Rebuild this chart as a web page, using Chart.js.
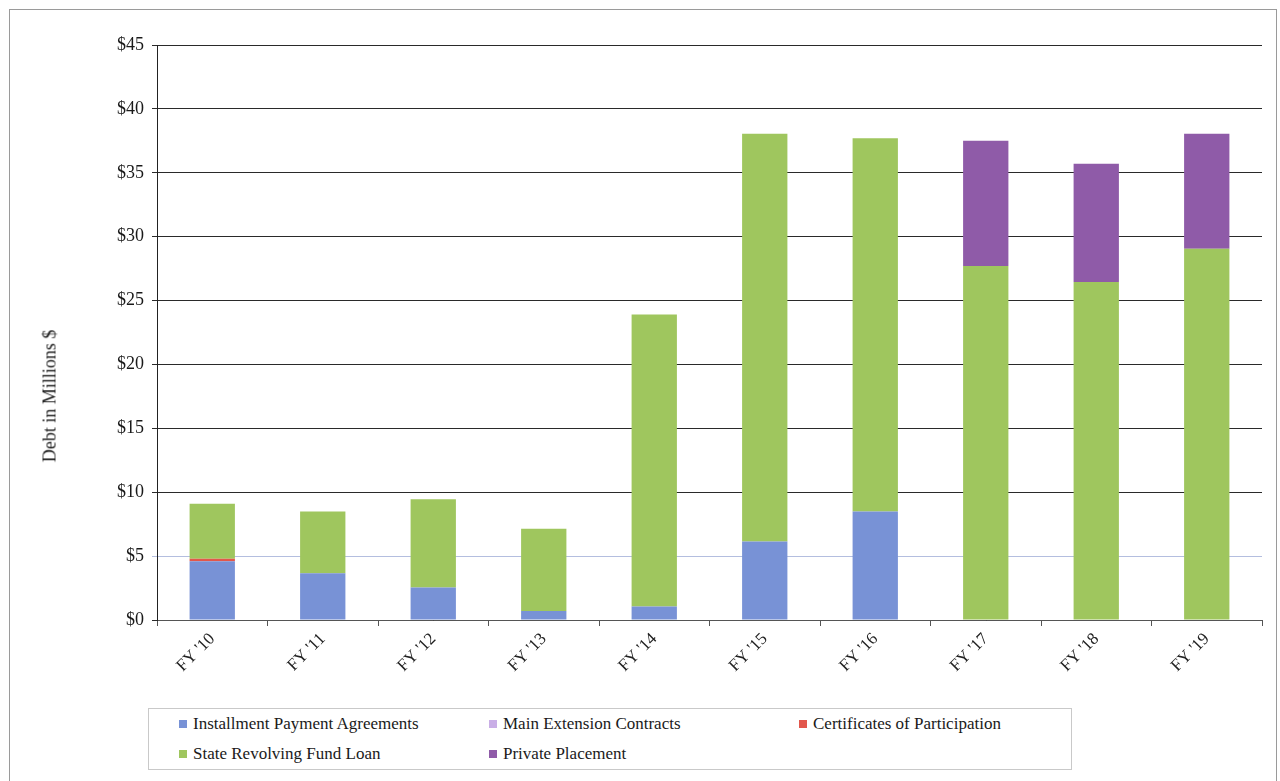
<!DOCTYPE html>
<html>
<head>
<meta charset="utf-8">
<script src="https://cdn.jsdelivr.net/npm/chart.js@4.4.1/dist/chart.umd.min.js"></script>
<style>
  body { margin: 0; background: #fff; font-family: "Liberation Serif", "Times New Roman", serif; }
  #frame { position: absolute; left: 9px; top: 9px; width: 1266px; height: 800px; border: 1px solid #9a9a9a; }
  #wrap { position: absolute; left: 0; top: 0; width: 1280px; height: 700px; }
  #ytitle { position: absolute; left: 50px; top: 396px; transform: translate(-50%, -50%) rotate(-90deg);
            font-size: 18px; color: #1a1a1a; white-space: nowrap; }
  #legend { position: absolute; left: 148px; top: 708px; width: 924px; height: 62px;
            border: 1px solid #c9c9c9; box-sizing: border-box; }
  .item { position: absolute; font-size: 17px; color: #1a1a1a; white-space: nowrap; line-height: 20px; }
  .item span { display: inline-block; width: 8px; height: 8px; margin-right: 6px; vertical-align: 1px; }
</style>
</head>
<body>
<div id="frame"></div>
<div id="wrap"><canvas id="debt"></canvas></div>
<div id="ytitle">Debt in Millions $</div>
<div id="legend"></div>
<script>
// fiscal years and outstanding debt by type, millions of dollars
const years = ["FY '10", "FY '11", "FY '12", "FY '13", "FY '14", "FY '15", "FY '16", "FY '17", "FY '18", "FY '19"];
const installment = [4.6, 3.65, 2.55, 0.7, 1.05, 6.15, 8.5, 0, 0, 0];
const mainExtension = [0, 0, 0, 0, 0, 0, 0, 0, 0, 0];
const certificates = [0.2, 0, 0, 0, 0, 0, 0, 0, 0, 0];
const srfLoan = [4.3, 4.85, 6.9, 6.45, 22.85, 31.9, 29.2, 27.7, 26.45, 29.05];
const privatePlacement = [0, 0, 0, 0, 0, 0, 0, 9.8, 9.25, 9.0];

const serif = "'Liberation Serif', 'Times New Roman', serif";

const ctx = document.getElementById('debt').getContext('2d');
const debtChart = new Chart(ctx, {
  type: 'bar',
  data: {
    labels: years,
    datasets: [
      { label: 'Installment Payment Agreements', data: installment, backgroundColor: '#7892d6' },
      { label: 'Main Extension Contracts', data: mainExtension, backgroundColor: '#c9aee6' },
      { label: 'Certificates of Participation', data: certificates, backgroundColor: '#e2574c' },
      { label: 'State Revolving Fund Loan', data: srfLoan, backgroundColor: '#9fc65e' },
      { label: 'Private Placement', data: privatePlacement, backgroundColor: '#8f5ba8' }
    ]
  },
  options: {
    responsive: true,
    maintainAspectRatio: false,
    animation: false,
    layout: { padding: { top: 45, right: 18, left: 30, bottom: 0 } },
    datasets: { bar: { categoryPercentage: 1, barPercentage: 0.41 } },
    plugins: { legend: { display: false }, tooltip: { enabled: false } },
    scales: {
      x: {
        stacked: true,
        afterFit: (scale) => { scale.height = 80; },
        border: { color: '#555' },
        grid: { offset: true, drawOnChartArea: false, tickLength: 6, color: '#555' },
        ticks: { minRotation: 45, maxRotation: 45, color: '#222', font: { family: serif, size: 17 } }
      },
      y: {
        stacked: true,
        min: 0,
        max: 45,
        afterFit: (scale) => { scale.width = 127; },
        border: { color: '#222' },
        grid: {
          tickLength: 5,
          color: (c) => (c.tick && c.tick.value === 5 ? '#b4bedf' : '#2a2a2a')
        },
        ticks: {
          stepSize: 5,
          padding: 8,
          color: '#1a1a1a',
          font: { family: serif, size: 18 },
          callback: (v) => '$' + v
        }
      }
    }
  }
});

// legend laid out in three columns under the plot
const legend = document.getElementById('legend');
debtChart.data.datasets.forEach((ds, i) => {
  const item = document.createElement('div');
  item.className = 'item';
  item.style.left = (30 + (i % 3) * 310) + 'px';
  item.style.top = (5 + Math.floor(i / 3) * 30) + 'px';
  item.innerHTML = '<span style="background:' + ds.backgroundColor + '"></span>' + ds.label;
  legend.appendChild(item);
});
</script>
</body>
</html>
